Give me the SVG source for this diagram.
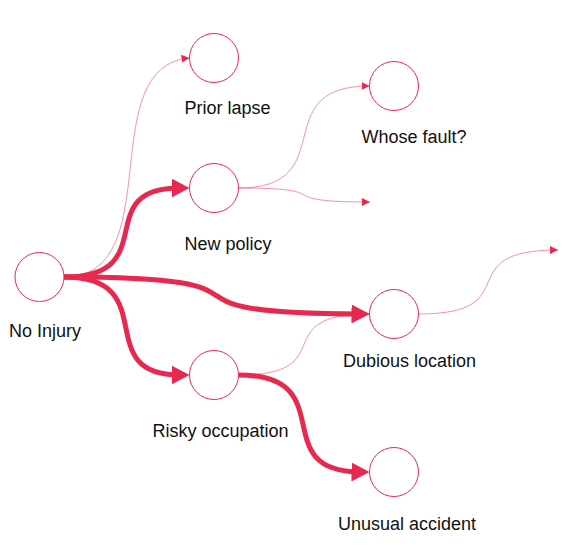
<svg xmlns="http://www.w3.org/2000/svg" width="578" height="548" viewBox="0 0 578 548">
<style>
.node circle{fill:#fff;stroke:#e8294f;stroke-width:1}
.node text{font-family:"Liberation Sans",Arial,sans-serif;font-size:18px;fill:#111}
.thick{fill:none;stroke:#e8294f;stroke-width:5;marker-end:url(#ah-thick)}
.thin{fill:none;stroke:#e8294f;stroke-opacity:0.5;stroke-width:1;marker-end:url(#ah-thin)}
</style>
<defs>
<marker id="ah-thick" markerUnits="userSpaceOnUse" markerWidth="18" markerHeight="19" refX="8" refY="9.5" orient="auto">
<path d="M0,0 L18,9.5 L0,19 z" fill="#e8294f"/>
</marker>
<marker id="ah-thin" markerUnits="userSpaceOnUse" markerWidth="8" markerHeight="8" refX="8" refY="4" orient="auto">
<path d="M0,0 L8,4 L0,8 z" fill="#e8294f"/>
</marker>
</defs>
<rect width="578" height="548" fill="#fff"/>
<g id="connectors">
<path class="thin" d="M64,277 C170,277 92,66 189.5,58"/>
<path class="thin" d="M238.5,375 C343.3,375 264.7,314 369.5,314"/>
<path class="thin" d="M238.5,188 C343.3,188 264.7,86 369.5,86"/>
<path class="thin" d="M238.5,188 C343.7,188 264.8,202 370,202"/>
<path class="thin" d="M418.5,314 C530.1,314 446.4,250 558,250"/>
<path class="thick" d="M64,277 C164.4,277 89.1,188 179.5,188"/>
<path class="thick" d="M64,277 C308.4,277 125.1,313 359.5,314"/>
<path class="thick" d="M64,277 C164.4,277 89.1,375 179.5,375"/>
<path class="thick" d="M238.5,375 C343.3,375 264.7,471 359.5,472"/>
</g>
<g id="node-no-injury" class="node"><circle cx="39.5" cy="277" r="24.5"/><text x="9" y="337">No Injury</text></g>
<g id="node-prior-lapse" class="node"><circle cx="214" cy="58" r="24.5"/><text x="184.5" y="114">Prior lapse</text></g>
<g id="node-new-policy" class="node"><circle cx="214" cy="188" r="24.5"/><text x="184.5" y="250">New policy</text></g>
<g id="node-whose-fault" class="node"><circle cx="394" cy="86" r="24.5"/><text x="361.5" y="143">Whose fault?</text></g>
<g id="node-dubious-location" class="node"><circle cx="394" cy="314" r="24.5"/><text x="343" y="367">Dubious location</text></g>
<g id="node-risky-occupation" class="node"><circle cx="214" cy="375" r="24.5"/><text x="152.5" y="437">Risky occupation</text></g>
<g id="node-unusual-accident" class="node"><circle cx="394" cy="472" r="24.5"/><text x="338" y="530">Unusual accident</text></g>
</svg>
